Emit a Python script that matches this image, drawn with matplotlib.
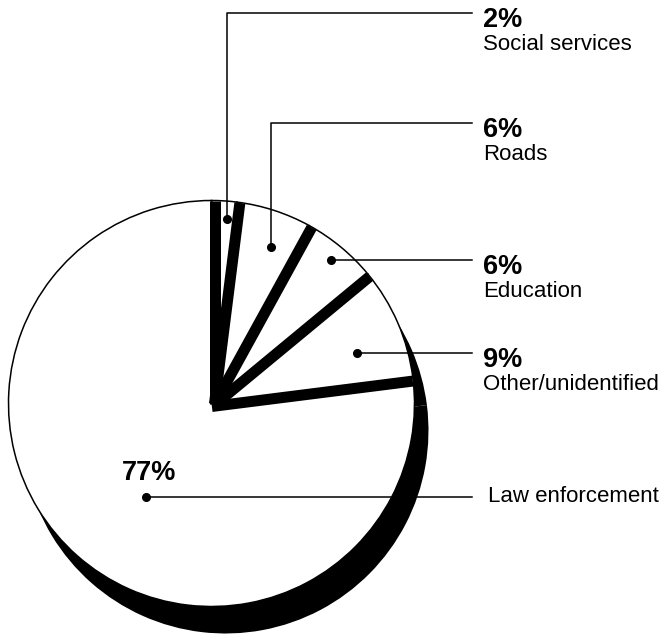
import numpy as np
import matplotlib
matplotlib.use("Agg")
import matplotlib.pyplot as plt

# data
shares = [2, 6, 6, 9, 77]
names = ["Social services", "Roads", "Education", "Other/unidentified", "Law enforcement"]
pct_labels = ["2%", "6%", "6%", "9%", "77%"]

# layout (pixels of the 662x637 canvas)
W, H = 662, 637
cx, cy, R = 211.5, 403.5, 203.0
shadow_dx, shadow_dy = 14, 27
band_w, band_shift = 11.0, 3.0

# where the leader dots sit inside each slice
dot_frac = [0.91, 0.825, 0.92, 0.76, 0.56]
dot_nudge = [-1.2, -2.8, -0.2, -4.3, 6.3]      # degrees off the bisector
elbow_y = [13, 123, None, None, None]           # leaders that go up first
line_end_x = 472
text_x = [483, 483, 483, 483, 488]

plt.rcParams["font.family"] = ["Liberation Sans", "DejaVu Sans"]

fig = plt.figure(figsize=(W / 100, H / 100), dpi=100)
ax = fig.add_axes([0, 0, 1, 1])


def py(y):
    # pixel row -> data y
    return H - y


# shadow underneath
ax.pie(shares, startangle=90, counterclock=False, radius=R,
       center=(cx + shadow_dx, py(cy + shadow_dy)), colors=["black"] * len(shares),
       wedgeprops=dict(linewidth=0), frame=True)

# white slices
wedges, _ = ax.pie(shares, startangle=90, counterclock=False, radius=R,
                   center=(cx, py(cy)), colors=["white"] * len(shares),
                   wedgeprops=dict(edgecolor="black", linewidth=1.1), frame=True)
for w in wedges:
    w.set_zorder(2)

# black side face along the clockwise edge of every slice
lw_pt = band_w * 72 / 100
for w in wedges:
    th = np.deg2rad(w.theta1)
    u = np.array([np.cos(th), np.sin(th)])
    n = np.array([np.sin(th), -np.cos(th)])
    c = np.array([cx, py(cy)]) + n * band_shift
    p = c + u * (R - 0.5)
    ax.plot([c[0], p[0]], [c[1], p[1]], color="black", lw=lw_pt,
            solid_capstyle="butt", zorder=3)

# leaders, dots and labels
for i, w in enumerate(wedges):
    mid = 0.5 * (w.theta1 + w.theta2) + dot_nudge[i]
    r = dot_frac[i] * R
    dx = cx + r * np.cos(np.deg2rad(mid))
    dy = py(cy) + r * np.sin(np.deg2rad(mid))
    ax.plot(dx, dy, "o", color="black", ms=5.5, zorder=5)
    if elbow_y[i] is not None:
        ly = py(elbow_y[i])
        ax.plot([dx, dx, line_end_x], [dy, ly, ly], color="black", lw=1.1, zorder=4)
    else:
        ly = dy
        ax.plot([dx, line_end_x], [dy, dy], color="black", lw=1.1, zorder=4)

    if i < len(wedges) - 1:
        ax.text(text_x[i], ly - 14, pct_labels[i], fontsize=19.5, fontweight="bold",
                ha="left", va="baseline", zorder=6)
        ax.text(text_x[i], ly - 37, names[i], fontsize=16,
                ha="left", va="baseline", zorder=6)
    else:
        ax.text(text_x[i], ly - 5, names[i], fontsize=16,
                ha="left", va="baseline", zorder=6)
        ax.text(dx - 24, dy + 17, pct_labels[i], fontsize=19.5, fontweight="bold",
                ha="left", va="baseline", zorder=6)

ax.set_xlim(0, W)
ax.set_ylim(0, H)
ax.set_aspect("equal")
ax.axis("off")

fig.savefig("out.png", dpi=100, facecolor="white")
